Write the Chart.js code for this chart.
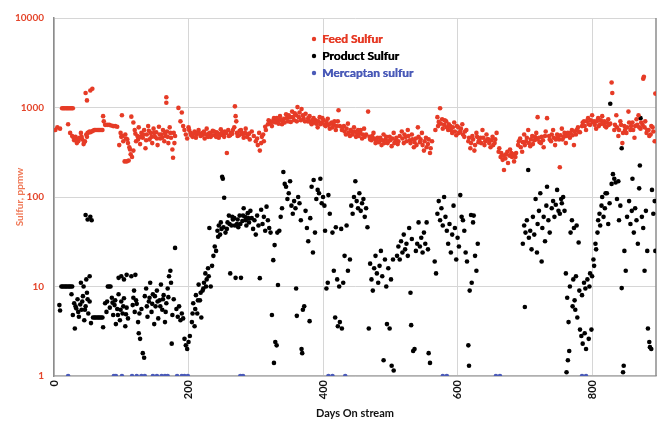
<!DOCTYPE html>
<html>
<head>
<meta charset="utf-8">
<script src="https://cdn.jsdelivr.net/npm/chart.js@4/dist/chart.umd.min.js"></script>
<style>
  html, body { margin: 0; padding: 0; background: #fff; }
  #wrap { width: 660px; height: 431px; }
</style>
</head>
<body>
<div id="wrap"><canvas id="chartSulfur" width="660" height="431"></canvas></div>
<script>
/* Sulfur vs days on stream - log scale scatter */

// [day, ppmw]
const feedSulfur = [
  [2,560],[5,600],[9,580],
  [12,980],[14,980],[16,980],[18,980],[20,980],[22,980],[24,980],[26,980],[28,980],
  [21,650],[24,520],[27,480],[30,430],[32,470],[34,400],[36,420],[38,460],[40,520],[42,440],[44,390],
  [46,420],[48,500],[50,520],[52,530],[54,530],[56,540],[58,550],
  [29,460],[33,430],[37,450],[41,470],[45,410],[49,470],[53,540],
  [47,1450],[49,1200],[54,1550],[57,1620],
  [60,560],[62,560],[64,560],[66,560],[68,560],[70,560],[72,560],[73,800],[74,700],
  [76,640],[79,640],[82,640],[85,630],[88,620],[91,620],[94,610],
  [101,820],[97,380],[100,470],[103,420],[106,500],[109,440],[112,360],[114,300],[116,280],[118,330],
  [99,520],[102,480],[107,450],[110,400],[113,340],
  [105,250],[108,250],[111,255],[115,790],[118,680],
  [120,560],[122,420],[124,480],[126,600],[128,390],[130,520],[132,460],[134,560],[136,350],[138,500],
  [140,620],[142,440],[144,520],[146,400],[148,580],[150,470],[152,530],[154,380],[156,610],[158,450],
  [160,500],[162,560],[164,420],[166,480],[168,540],[170,400],[172,600],[174,460],[176,340],[178,520],[180,480],
  [121,510],[125,440],[129,470],[133,500],[137,430],[141,550],[145,470],[149,520],[153,450],[157,500],
  [161,460],[165,520],[169,470],[173,520],[179,400],
  [167,1300],[167,1130],[177,275],[185,990],[188,700],[190,880],[192,620],[194,560],[196,500],[198,450],[200,600],
  [203,520],[206,470],[209,540],[212,500],[215,560],[218,480],[221,520],[224,450],[227,580],[230,510],
  [233,470],[236,550],[239,490],[242,530],[245,460],[248,570],[251,500],[254,540],[257,310],[260,480],
  [263,520],[266,560],[269,1030],[270,800],[271,700],[273,480],[276,550],[279,520],[282,460],[285,580],
  [288,500],[291,440],[294,540],[297,480],[300,420],
  [201,560],[204,490],[208,510],[211,460],[214,530],[217,510],[220,490],[223,540],[226,500],[229,470],
  [232,520],[235,490],[238,540],[241,470],[244,510],[247,490],[250,530],[253,470],[256,520],[259,560],
  [262,490],[265,510],[268,600],[272,520],[275,490],[278,560],[281,500],[284,520],[287,470],[290,510],
  [303,380],[306,330],[309,470],[312,420],[315,560],[302,450],[305,520],[308,400],[311,500],[314,610],
  [318,650],[321,700],[324,620],[327,760],[330,680],[333,720],[336,800],[339,650],[342,750],[345,840],
  [348,700],[351,780],[354,900],[357,720],[360,820],[362,1010],[365,880],[368,960],[371,760],[374,850],
  [319,720],[322,660],[325,700],[328,690],[331,760],[334,660],[337,730],[340,700],[343,680],[346,760],
  [349,820],[352,690],[355,780],[358,860],[361,700],[364,780],[367,720],[370,820],[373,700],
  [377,700],[380,800],[383,650],[386,760],[389,720],[392,600],[395,780],[398,680],[401,720],[404,620],
  [407,750],[410,580],[413,680],[416,640],[419,560],[422,700],[423,930],[425,620],
  [378,760],[381,690],[384,720],[387,680],[390,660],[393,700],[396,650],[399,760],[402,640],[405,690],
  [408,640],[411,660],[414,600],[417,700],[420,620],
  [428,560],[431,620],[434,500],[437,660],[440,480],[443,540],[446,600],[449,470],[452,560],[455,520],
  [458,450],[461,580],[464,500],[467,900],
  [429,600],[432,540],[435,580],[438,520],[441,560],[444,500],[447,540],[450,520],[453,480],[456,560],[459,500],[462,470],
  [469,470],[472,430],[475,520],[478,400],[481,460],[484,420],[487,380],[490,500],[493,440],[496,400],
  [499,470],[502,370],[505,520],[508,430],[511,390],[514,480],
  [470,440],[473,480],[476,450],[479,430],[482,410],[485,460],[488,430],[491,400],[494,470],[497,420],
  [500,430],[503,450],[506,400],[509,460],[512,420],
  [517,540],[520,400],[523,470],[526,560],[529,430],[532,500],[535,360],[538,450],[541,600],[544,410],
  [547,520],[550,330],[553,460],[556,390],[559,310],[562,420],
  [518,450],[521,500],[524,420],[527,480],[530,400],[533,440],[536,410],[539,380],[542,470],[545,440],
  [548,380],[551,420],[554,360],[557,440],[560,350],
  [567,560],[570,780],[572,690],[574,980],[577,740],[580,640],[583,700],[586,560],[589,620],[592,520],
  [595,680],[598,490],[601,600],[604,540],[607,650],[610,470],[613,560],
  [571,620],[575,660],[578,580],[581,720],[584,600],[587,650],[590,560],[593,600],[596,540],[599,620],
  [602,520],[605,580],[608,500],[611,540],
  [616,420],[619,350],[622,480],[625,330],[628,520],[631,410],[634,460],[637,560],[640,380],[643,500],
  [646,440],[649,360],[652,470],[655,400],[658,520],
  [617,460],[620,400],[623,440],[626,380],[629,470],[632,430],[635,400],[638,460],[641,420],[644,440],
  [647,400],[650,430],[653,380],[656,440],
  [661,320],[664,280],[667,260],[669,200],[672,300],[675,240],[678,340],[681,280],[684,250],[687,310],
  [662,350],[665,310],[668,290],[671,270],[674,320],[677,290],[680,310],[683,300],[686,280],
  [690,380],[693,450],[696,320],[699,500],[702,420],[705,560],[708,370],[711,480],[714,430],[717,520],
  [719,780],[722,410],[725,470],[728,360],[731,540],[733,760],
  [691,420],[694,360],[697,410],[700,380],[703,460],[706,400],[709,440],[712,390],[715,470],[718,440],
  [721,460],[724,400],[727,430],[730,480],
  [736,480],[739,420],[742,560],[745,380],[748,500],[751,440],[752,215],[755,580],[758,470],[761,400],
  [764,520],[767,460],[770,560],[773,380],[776,500],[779,600],[782,530],
  [737,440],[740,500],[743,460],[746,440],[749,470],[753,490],[756,440],[759,520],[762,480],[765,500],
  [768,520],[771,490],[774,540],[777,560],[780,540],
  [785,620],[788,700],[791,560],[794,760],[797,640],[800,820],[803,700],[806,580],[809,760],[812,650],
  [815,800],[818,700],[821,600],[824,740],[827,660],[829,1900],[830,1450],
  [786,680],[789,620],[792,700],[795,650],[798,720],[801,690],[804,640],[807,700],[810,620],[813,720],
  [816,660],[819,620],[822,680],[825,640],
  [833,560],[836,820],[839,480],[842,700],[845,400],[848,620],[851,520],[854,900],[857,560],[860,680],
  [863,460],[866,740],[869,820],[872,580],[875,640],[876,2100],[877,2200],[879,700],[882,560],[885,480],
  [888,620],[891,540],[893,420],[894,1430],
  [834,640],[837,600],[840,560],[843,640],[846,520],[849,560],[852,600],[855,680],[858,620],[861,560],
  [864,620],[867,640],[870,600],[873,680],[878,600],[881,520],[884,560],[887,500],[890,600]
];

const productSulfur = [
  [8,6.2],[9,5.4],[11,10],[13,10],[15,10],[17,10],[19,10],[21,10],[23,10],[25,10],[27,10],
  [26,8.2],[28,4.8],[30,6.5],[31,3.4],[33,5.7],[35,7.2],[37,4.6],[39,6.3],[41,5.5],[43,7.8],[45,4.2],
  [47,6.0],[49,8.5],[51,5.0],[53,6.8],[55,3.9],[40,11],[44,10],[48,12],[53,13],
  [32,6.0],[36,5.2],[42,6.8],[46,5.5],[50,7.2],
  [47,63],[50,56],[54,60],[56,55],
  [58,4.5],[60,4.5],[62,4.5],[64,4.5],[66,4.5],[68,4.5],[70,4.5],[72,4.5],[73,3.5],
  [76,6.5],[78,5.2],[80,10],[82,10],[84,10],[86,7.5],[88,4.8],[90,6.2],[92,3.8],[94,5.6],[96,8.2],
  [98,4.2],[100,6.8],[102,5.0],[104,7.4],[106,3.6],[108,5.8],[110,4.4],
  [79,6.8],[83,5.8],[87,6.6],[91,7.0],[95,4.8],[99,5.5],[103,6.0],[107,4.9],
  [96,12.5],[100,13],[104,12],[108,13.5],
  [115,13],[118,7.5],[120,5.2],[121,13.5],[123,6.4],[125,4.0],[126,3.0],[128,2.6],[130,5.6],[132,1.8],
  [134,1.6],[135,7.8],[117,6.2],[119,9.0],[122,7.0],[127,5.0],
  [137,9.5],[139,4.6],[141,6.8],[143,11],[145,5.2],[147,8.2],[149,3.8],[151,6.0],[153,9.0],[155,4.4],
  [157,7.0],[159,10.5],[161,5.5],[163,8.0],[165,4.0],[167,6.5],[169,9.5],[171,13],[173,15],[174,11],
  [176,4.8],[178,7.2],[175,2.3],[180,27],
  [138,6.0],[142,7.5],[146,6.4],[150,7.8],[154,6.8],[158,6.0],[162,7.2],[166,5.2],[170,7.6],
  [182,5.6],[184,4.6],[186,6.0],[188,4.2],[190,5.0],[192,4.4],[194,2.6],[196,2.2],[198,2.0],[200,2.4],[202,2.8],
  [205,4.0],[207,6.5],[209,3.6],[211,8.0],[213,5.0],[215,10.5],[217,7.0],[219,4.5],[221,9.0],[223,11],
  [225,14],[227,12],[229,16],[231,45],[233,10],[235,17],
  [206,5.0],[210,5.6],[214,7.0],[218,8.5],[222,9.5],[226,10],[230,13],
  [237,22],[239,28],[241,25],[243,42],[245,48],[247,38],[249,44],[250,168],[251,160],[253,98],
  [255,40],[258,52],[260,62],[262,14],[264,48],[266,56],[268,58],[270,12.5],[272,50],[274,46],
  [276,62],[278,12.5],[280,54],[282,75],[284,60],[286,48],[288,66],[290,52],[292,70],[294,58],
  [244,36],[248,52],[252,46],[257,44],[261,50],[265,60],[269,48],[273,56],[277,50],[281,62],[285,55],[289,58],
  [296,44],[298,55],[300,38],[302,62],[304,48],[306,12.4],[308,72],[310,50],[312,60],[314,42],
  [316,78],[318,55],[320,45],
  [322,40],[324,4.8],[326,19.7],[327,1.4],[328,29],[329,2.4],[331,2.2],[332,40],[333,10.4],[335,42],
  [337,60],[339,75],[341,190],[343,140],[345,130],[347,95],[349,110],[351,150],[353,80],[355,65],
  [357,90],[359,75],[360,9.5],[361,4.7],[363,100],[365,85],[367,55],[368,2.0],[369,1.8],[370,5.5],
  [372,6.0],[374,70],
  [376,45],[378,32],[380,4.1],[381,58],[383,130],[385,24],[386,155],[388,40],[390,95],[392,120],
  [394,110],[396,160],[398,85],[400,100],[402,80],[403,42],[405,9.5],[407,11],[408,105],[410,65],
  [414,40],[416,15],[418,4.5],[419,46],[421,12],[422,3.6],[424,10],[425,4.0],[427,44],[428,3.4],
  [430,11],[432,22],[435,48],[437,15],[440,20],[442,80],[444,65],[446,100],[448,150],[450,90],
  [452,75],[454,110],[456,70],[458,85],[460,95],[462,60],[464,75],[466,46],[468,3.4],
  [470,18],[472,12],[474,9.0],[476,16],[478,22],[480,14],[482,11],[484,17],[486,25],[488,13],
  [490,1.5],[492,20],[494,10],[495,3.8],[497,16],[499,3.4],[501,12],[502,1.3],[504,20],[505,1.15],
  [510,22],[512,28],[514,20],[516,32],[518,24],[520,38],[522,26],[524,30],[526,22],[528,45],
  [530,8.5],[531,3.7],[532,34],[534,1.9],[536,2.0],[538,25],[540,30],[542,52],[544,28],[546,35],
  [548,24],[550,40],[552,30],[554,52],[556,26],[557,1.8],[559,1.4],
  [566,19],[568,14],[570,65],[572,90],[574,55],[576,75],[578,48],[580,100],[582,60],[584,42],
  [586,30],[588,50],[590,24],[592,38],[594,80],[596,45],[598,20],[600,35],[602,28],[604,105],
  [606,60],[608,55],[610,42],[612,24],[614,19],[616,2.2],[617,1.3],[618,9.0],[620,63],[621,11],
  [623,52],[624,62],[626,22],[628,15],[630,30],
  [697,30],[699,48],[700,5.9],[701,40],[703,55],[705,200],[706,35],[708,42],[710,26],[712,60],
  [714,38],[716,95],[718,24],[719,50],[721,70],[723,110],[725,19],[726,45],[728,60],[730,32],
  [732,80],[733,130],[735,55],[737,40],
  [740,75],[742,90],[744,60],[746,82],[748,120],[750,70],[752,65],[754,95],[755,85],[757,100],[759,70],
  [761,14],[762,1.1],[763,7.5],[764,1.5],[765,4.0],[766,1.9],[767,10],[768,40],[770,55],[771,6.0],
  [772,12],[773,45],[774,7.0],[775,5.5],[776,13],[777,48],[778,4.5],[780,31],[781,9.0],[782,3.3],
  [784,2.8],[785,8.0],[786,2.3],[788,11],[789,3.0],[790,9.5],[791,2.0],[793,12],[795,2.6],[796,10],
  [797,14],[799,3.3],[800,13],[802,20],[803,17],[805,30],[806,26],
  [808,40],[809,55],[811,65],[812,48],[814,80],[815,100],[817,60],[819,75],[820,110],[822,110],
  [824,50],[826,85],[827,1100],
  [829,140],[831,180],[833,160],[835,145],[837,95],[839,150],[840,55],[842,80],[844,350],[844,9.6],
  [846,1.1],[847,1.3],[848,25],[850,15],[852,60],[855,90],[857,50],[859,70],[860,160],[862,40],
  [864,75],[866,55],[868,30],[870,125],[871,225],[872,760],[874,60],[876,45],[878,15],[880,70],
  [882,25],[883,3.4],[885,2.4],[886,2.1],[888,2.0],[889,120],[891,65],[893,90],[894,25]
];

// mercaptan sulfur sits on the 1 ppmw floor
const mercaptanDays = [21,89,92,101,116,123,130,135,147,153,160,165,169,183,190,194,199,277,281,408,414,433,578,584,657,663,785,791];
const mercaptanValue = 1;

const xTicks = [0, 200, 400, 600, 800];
const yTicks = [1, 10, 100, 1000, 10000];

const seriesNames = ['Feed Sulfur', 'Product Sulfur', 'Mercaptan sulfur'];
const seriesColors = ['#e63b26', '#000000', '#4a5ab8'];

function toPoints(pairs) {
    return pairs.map(p => ({ x: p[0], y: p[1] }));
}

// legend drawn inside the plot, top centre
const legendInside = {
    id: 'legendInside',
    afterDraw(chart) {
        const ctx = chart.ctx;
        ctx.save();
        ctx.font = 'bold 12px Lato, "Open Sans", sans-serif';
        ctx.textBaseline = 'middle';
        seriesNames.forEach((name, i) => {
            const y = 39 + i * 17;
            ctx.fillStyle = seriesColors[i];
            ctx.beginPath();
            ctx.arc(314, y, 2.2, 0, Math.PI * 2);
            ctx.fill();
            ctx.fillText(name, 322, y);
            // a touch heavier, like the original
            ctx.fillText(name, 322.4, y);
        });
        ctx.restore();
    }
};

// right edge of the plot frame
const plotFrame = {
    id: 'plotFrame',
    beforeDatasetsDraw(chart) {
        const a = chart.chartArea;
        const ctx = chart.ctx;
        ctx.save();
        ctx.strokeStyle = '#8c8c8c';
        ctx.lineWidth = 1.5;
        ctx.beginPath();
        ctx.moveTo(a.right, a.top);
        ctx.lineTo(a.right, a.bottom);
        ctx.stroke();
        ctx.restore();
    }
};

const ctx = document.getElementById('chartSulfur');
new Chart(ctx, {
    type: 'scatter',
    data: {
        datasets: [
            {
                label: seriesNames[0],
                data: toPoints(feedSulfur),
                backgroundColor: seriesColors[0],
                borderWidth: 0,
                pointRadius: 2.3
            },
            {
                label: seriesNames[1],
                data: toPoints(productSulfur),
                backgroundColor: seriesColors[1],
                borderWidth: 0,
                pointRadius: 2.3
            },
            {
                label: seriesNames[2],
                data: mercaptanDays.map(d => ({ x: d, y: mercaptanValue })),
                backgroundColor: seriesColors[2],
                borderWidth: 0,
                pointRadius: 2.3
            }
        ]
    },
    options: {
        responsive: false,
        animation: false,
        layout: { padding: { top: 18, right: 4, left: 0, bottom: 0 } },
        plugins: {
            legend: { display: false },
            tooltip: { enabled: false }
        },
        scales: {
            x: {
                type: 'linear',
                min: 0,
                max: 895,
                afterBuildTicks: scale => { scale.ticks = xTicks.map(v => ({ value: v })); },
                afterFit: scale => { scale.height = 55; },
                ticks: {
                    color: '#111',
                    font: { family: 'Lato', weight: 'bold', size: 11 },
                    minRotation: 90,
                    maxRotation: 90,
                    padding: 4
                },
                grid: { color: '#d6d6d6', drawTicks: false },
                border: { color: '#b0b0b0', width: 1.5 },
                title: {
                    display: true,
                    text: 'Days On stream',
                    color: '#111',
                    font: { family: 'Lato', weight: 'bold', size: 11 },
                    padding: { top: 0, bottom: 11 }
                }
            },
            y: {
                type: 'logarithmic',
                min: 1,
                max: 10000,
                afterBuildTicks: scale => { scale.ticks = yTicks.map(v => ({ value: v })); },
                afterFit: scale => { scale.width = 54; },
                ticks: {
                    color: '#e4452b',
                    font: { family: 'Lato', weight: 'bold', size: 10 },
                    padding: 10,
                    callback: v => String(v)
                },
                grid: { color: '#d6d6d6', drawTicks: false },
                border: { color: '#8c8c8c', width: 1.5 },
                title: {
                    display: true,
                    text: 'Sulfur, ppmw',
                    color: '#ef7856',
                    font: { family: 'Lato', weight: 'bold', size: 10 },
                    padding: { top: 14, bottom: 0 }
                }
            }
        }
    },
    plugins: [plotFrame, legendInside]
});
</script>
</body>
</html>
